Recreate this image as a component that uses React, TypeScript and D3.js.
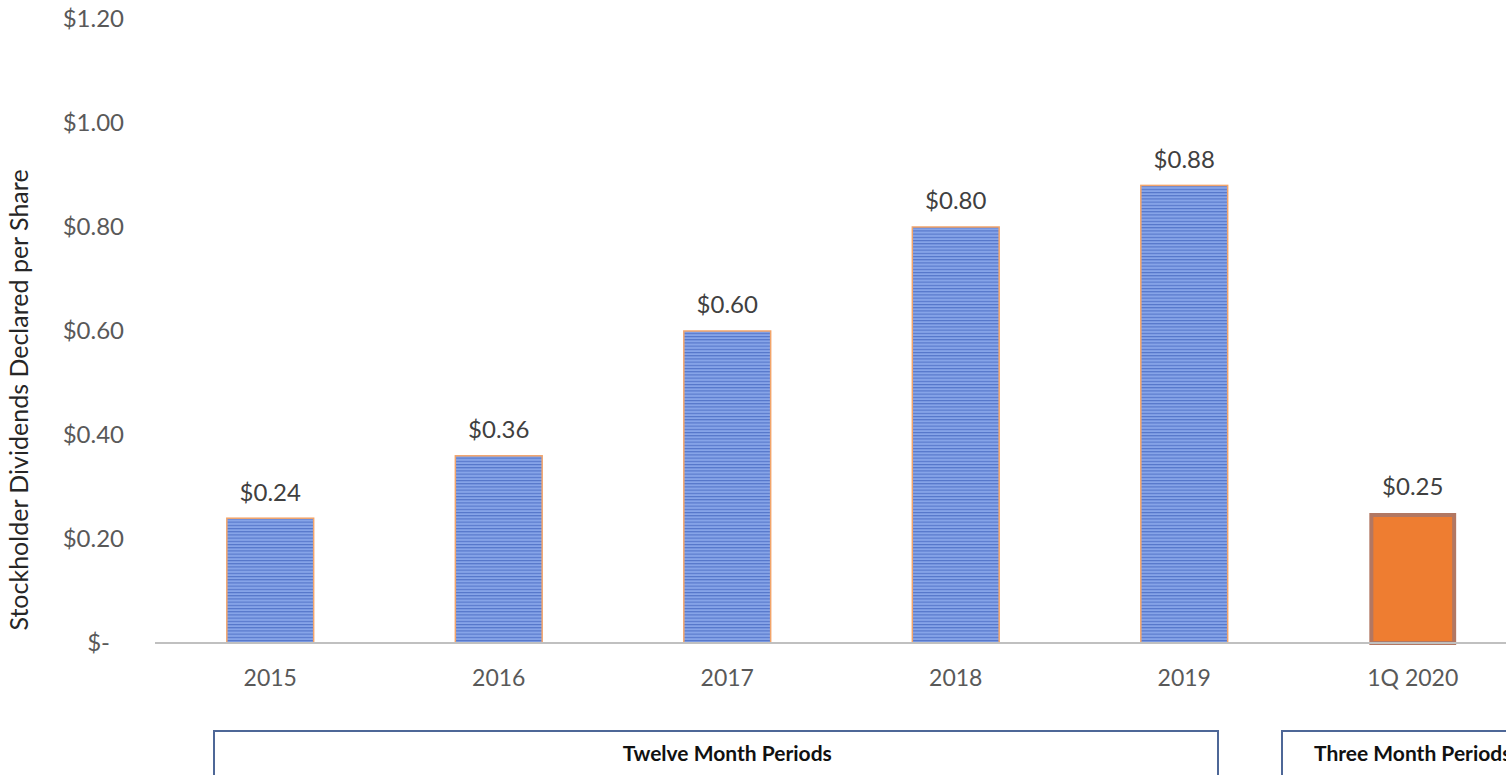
import React from "react";
import * as d3 from "d3";

const categories = ["2015", "2016", "2017", "2018", "2019", "1Q 2020"];
const values = [0.24, 0.36, 0.6, 0.8, 0.88, 0.25];
const valueLabels = ["$0.24", "$0.36", "$0.60", "$0.80", "$0.88", "$0.25"];
const yTicks = [0, 0.2, 0.4, 0.6, 0.8, 1.0, 1.2];
const yTickLabels = ["$-", "$0.20", "$0.40", "$0.60", "$0.80", "$1.00", "$1.20"];
const groups = [
  { label: "Twelve Month Periods", from: "2015", to: "2019" },
  { label: "Three Month Periods", from: "1Q 2020", to: "1Q 2020" },
];
const highlight = ["1Q 2020"];

const W = 1506;
const H = 775;
const FONT = "Lato, 'Open Sans', sans-serif";

export default function App() {
  const x = d3.scaleBand<string>().domain(categories).range([156, 1527]).paddingInner(0.62).paddingOuter(0.31);
  const y = d3.scaleLinear().domain([0, 1.2]).range([643, 19]);
  const bw = x.bandwidth();
  const center = (c: string) => (x(c) as number) + bw / 2;

  return (
    <svg width={W} height={H} style={{ position: "absolute", left: 0, top: 0, background: "#fff" }}>
      <defs>
        <pattern id="stripes" patternUnits="userSpaceOnUse" width={8} height={3.2}>
          <rect width={8} height={3.2} fill="#86a4e8" />
          <rect y={0} width={8} height={1.1} fill="#5374c8" />
        </pattern>
      </defs>
      <rect x={0} y={0} width={W} height={H} fill="#fff" />
      {/* y tick labels */}
      {yTicks.map((t, i) => (
        <text
          key={t}
          x={t === 0 ? 110 : 124}
          y={y(t)}
          dy="0.35em"
          textAnchor="end"
          fontFamily={FONT}
          fontSize={24}
          fill="#595959"
        >
          {yTickLabels[i]}
        </text>
      ))}
      {/* y title */}
      <text
        transform={`translate(19,400) rotate(-90)`}
        dy="0.35em"
        textAnchor="middle"
        fontFamily={FONT}
        fontSize={25}
        fill="#262626"
      >
        Stockholder Dividends Declared per Share
      </text>
      {/* bars */}
      {categories.map((c, i) => {
        const hi = highlight.includes(c);
        const bx = x(c) as number;
        const by = y(values[i]);
        const bh = y(0) - by;
        return (
          <g key={c}>
            {hi ? (
              <rect x={bx + 2} y={by + 2} width={bw - 4} height={bh - 2} fill="#ee7d31" stroke="#b27762" strokeWidth={4} />
            ) : (
              <rect x={bx} y={by} width={bw} height={bh} fill="url(#stripes)" stroke="#f2a46a" strokeWidth={1.5} />
            )}
            <text
              x={center(c)}
              y={by - 26}
              dy="0.35em"
              textAnchor="middle"
              fontFamily={FONT}
              fontSize={24}
              fill="#404040"
            >
              {valueLabels[i]}
            </text>
            <text
              x={center(c)}
              y={678}
              dy="0.35em"
              textAnchor="middle"
              fontFamily={FONT}
              fontSize={23}
              fill="#595959"
            >
              {c}
            </text>
          </g>
        );
      })}
      {/* axis line */}
      <line x1={155} x2={W} y1={y(0)} y2={y(0)} stroke="#c0c0c0" strokeWidth={2} />
      {/* group boxes */}
      {groups.map((g, i) => {
        const left = i === 0 ? 214 : 1282;
        const right = i === 0 ? 1218 : 1543;
        const cx = (center(g.from) + center(g.to)) / 2;
        return (
          <g key={g.label}>
            <rect x={left} y={731} width={right - left} height={60} fill="#fff" stroke="#4e6797" strokeWidth={2} />
            <text x={cx} y={754} dy="0.35em" textAnchor="middle" fontFamily={FONT} fontSize={21} fontWeight="bold" fill="#111">
              {g.label}
            </text>
          </g>
        );
      })}
    </svg>
  );
}
